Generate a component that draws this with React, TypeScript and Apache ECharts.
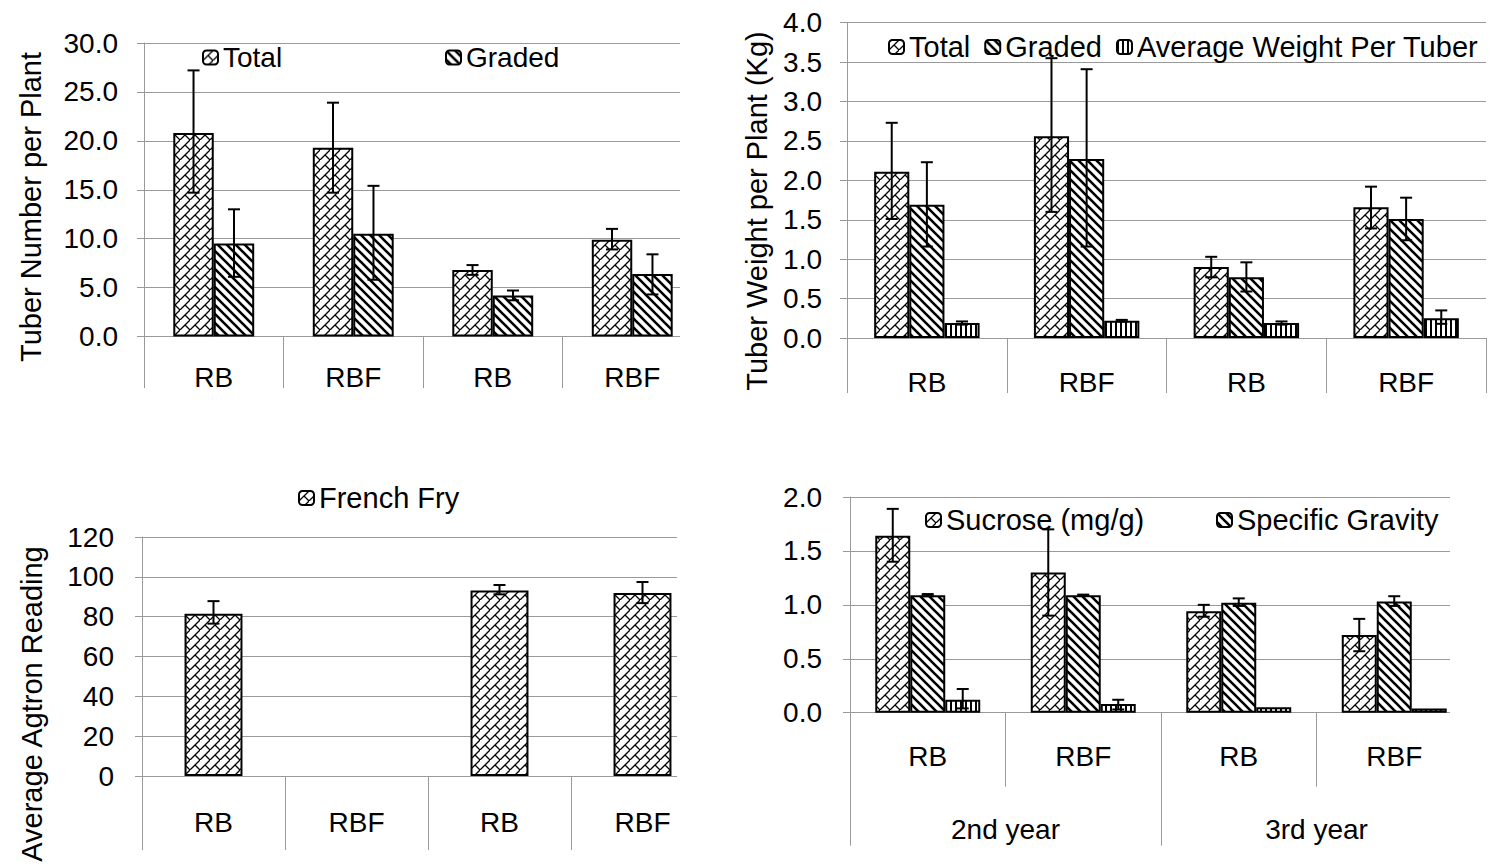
import React, { useEffect, useRef } from 'react';
import * as echarts from 'echarts';

// ---------- data ----------
const categories = ['RB', 'RBF', 'RB', 'RBF'];
const years = ['2nd year', '3rd year'];

// Panel 1: tuber number per plant
const numTotal = [20.8, 19.3, 6.8, 9.9];
const numTotalLow = [14.7, 14.7, 6.3, 8.9];
const numTotalHigh = [27.2, 23.9, 7.3, 11.0];
const numGraded = [9.5, 10.5, 4.2, 6.4];
const numGradedLow = [6.1, 5.8, 3.7, 4.3];
const numGradedHigh = [13.0, 15.4, 4.7, 8.4];

// Panel 2: tuber weight per plant (kg)
const wtTotal = [2.11, 2.56, 0.9, 1.66];
const wtTotalLow = [1.51, 1.6, 0.77, 1.39];
const wtTotalHigh = [2.73, 3.55, 1.03, 1.92];
const wtGraded = [1.69, 2.27, 0.77, 1.51];
const wtGradedLow = [1.16, 1.16, 0.59, 1.24];
const wtGradedHigh = [2.23, 3.41, 0.96, 1.78];
const wtAvg = [0.19, 0.22, 0.19, 0.25];
const wtAvgLow = [0.17, 0.21, 0.17, 0.18];
const wtAvgHigh = [0.21, 0.23, 0.21, 0.35];

// Panel 3: average Agtron reading
const fry = [81.5, null, 93.2, 91.9];
const fryLow = [76.5, null, 91.2, 86.8];
const fryHigh = [87.8, null, 95.9, 97.4];

// Panel 4: sucrose / specific gravity
const sucrose = [1.64, 1.3, 0.94, 0.72];
const sucroseLow = [1.4, 0.9, 0.89, 0.57];
const sucroseHigh = [1.89, 1.7, 1.0, 0.87];
const gravity = [1.09, 1.09, 1.02, 1.03];
const gravityLow = [1.08, 1.085, 0.99, 0.99];
const gravityHigh = [1.1, 1.095, 1.06, 1.08];
const third = [0.12, 0.08, 0.05, 0.04];
const thirdLow = [0.04, 0.03, null, null];
const thirdHigh = [0.22, 0.12, null, null];

// ---------- styles ----------
const GRID = '#9a9a9a';
const TEXT = '#000';
const FONT = '"Liberation Sans", Arial, sans-serif';

function makeCanvas(w: number, h: number, draw: (ctx: CanvasRenderingContext2D) => void) {
  const c = document.createElement('canvas');
  c.width = w;
  c.height = h;
  const ctx = c.getContext('2d')!;
  ctx.fillStyle = '#fff';
  ctx.fillRect(0, 0, w, h);
  draw(ctx);
  return c;
}

function patterns() {
  const brick = makeCanvas(10, 10, (ctx) => {
    ctx.strokeStyle = '#000';
    ctx.lineWidth = 1.3;
    ctx.beginPath();
    ctx.moveTo(-2, 12);
    ctx.lineTo(12, -2);
    ctx.moveTo(5, 5);
    ctx.lineTo(12, 12);
    ctx.stroke();
  });
  const diag = makeCanvas(9, 9, (ctx) => {
    ctx.strokeStyle = '#000';
    ctx.lineWidth = 2.6;
    ctx.beginPath();
    ctx.moveTo(-1, -1);
    ctx.lineTo(10, 10);
    ctx.moveTo(-10, -1);
    ctx.lineTo(1, 10);
    ctx.moveTo(8, -1);
    ctx.lineTo(19, 10);
    ctx.stroke();
  });
  const vert = makeCanvas(5, 5, (ctx) => {
    ctx.fillStyle = '#000';
    ctx.fillRect(0, 0, 2, 5);
  });
  const pat = (c: HTMLCanvasElement) => ({
    image: c,
    repeat: 'repeat',
    imageWidth: c.width,
    imageHeight: c.height,
  });
  return { brick: pat(brick), diag: pat(diag), vert: pat(vert) };
}

function barSeries(name: string, axis: number, data: (number | null)[], width: string, color: any) {
  return {
    type: 'bar',
    name,
    xAxisIndex: axis,
    yAxisIndex: axis,
    data: data.map((v) => (v == null ? '-' : v)),
    barWidth: width,
    barGap: '0%',
    itemStyle: { color, borderColor: '#000', borderWidth: 2 },
    z: 2,
  };
}

function errSeries(
  name: string,
  axis: number,
  low: (number | null)[],
  high: (number | null)[],
  index: number,
  count: number,
  frac: number
) {
  const data: number[][] = [];
  low.forEach((l, i) => {
    if (l != null && high[i] != null) data.push([i, l, high[i] as number]);
  });
  const line = { stroke: '#000', lineWidth: 2 };
  return {
    type: 'custom',
    name,
    xAxisIndex: axis,
    yAxisIndex: axis,
    silent: true,
    z: 5,
    data,
    encode: { x: 0, y: [1, 2] },
    renderItem: (params: any, api: any) => {
      const i = api.value(0);
      const lo = api.coord([i, api.value(1)]);
      const hi = api.coord([i, api.value(2)]);
      const band = api.size([1, 0])[0];
      const x = lo[0] + (index - (count - 1) / 2) * band * frac;
      const cap = 6;
      return {
        type: 'group',
        children: [
          { type: 'line', shape: { x1: x, y1: lo[1], x2: x, y2: hi[1] }, style: line },
          { type: 'line', shape: { x1: x - cap, y1: hi[1], x2: x + cap, y2: hi[1] }, style: line },
          { type: 'line', shape: { x1: x - cap, y1: lo[1], x2: x + cap, y2: lo[1] }, style: line },
        ],
      };
    },
  };
}

function catAxis(gridIndex: number, tickLen: number, margin: number) {
  return {
    type: 'category',
    gridIndex,
    data: categories,
    position: 'bottom',
    axisLine: { show: true, lineStyle: { color: GRID, width: 1 } },
    axisTick: { show: true, length: tickLen, lineStyle: { color: GRID, width: 1 } },
    axisLabel: { interval: 0, margin, fontSize: 28, color: TEXT, fontFamily: FONT },
    splitLine: { show: false },
  };
}

function valAxis(gridIndex: number, max: number, interval: number, margin: number, digits: number) {
  return {
    type: 'value',
    gridIndex,
    min: 0,
    max,
    interval,
    axisLine: { show: true, lineStyle: { color: GRID, width: 1 } },
    axisTick: { show: true, length: 7, lineStyle: { color: GRID, width: 1 } },
    splitLine: { show: true, lineStyle: { color: GRID, width: 1 } },
    axisLabel: {
      margin,
      fontSize: 28,
      color: TEXT,
      fontFamily: FONT,
      formatter: (v: number) => v.toFixed(digits),
    },
  };
}

function legend(names: string[], left: number, centerY: number, fontSize: number, gap = 14) {
  return {
    data: names,
    left,
    top: centerY - fontSize / 2,
    padding: 0,
    itemGap: gap,
    itemWidth: 15,
    itemHeight: 14,
    selectedMode: false,
    textStyle: { fontSize, color: TEXT, fontFamily: FONT },
  };
}

function axisName(text: string, x: number, y: number) {
  return {
    type: 'text',
    x,
    y,
    rotation: Math.PI / 2,
    z: 50,
    silent: true,
    style: {
      text,
      fontSize: 29,
      fontFamily: FONT,
      fill: TEXT,
      align: 'center',
      verticalAlign: 'middle',
      textAlign: 'center',
      textVerticalAlign: 'middle',
    },
  };
}

function cover(x: number, y: number, w: number, h: number) {
  return { type: 'rect', z: 100, silent: true, shape: { x, y, width: w, height: h }, style: { fill: '#fff' } };
}

export default function App() {
  const ref = useRef<HTMLDivElement>(null);

  useEffect(() => {
    if (!ref.current) return;
    const chart = echarts.init(ref.current, undefined, { renderer: 'svg' });
    const p = patterns();

    const w1 = 0.29;
    const w2 = 0.22;
    const w3 = 0.405;
    const w4 = 0.225;
    const pct = (f: number) => `${(f * 100).toFixed(1)}%`;

    chart.setOption({
      animation: false,
      backgroundColor: '#fff',
      grid: [
        { left: 144, top: 43, width: 558, height: 293.5 },
        { left: 847, top: 22.7, width: 639, height: 315.3 },
        { left: 142, top: 537, width: 572, height: 239 },
        { left: 850, top: 497, width: 622, height: 215.7 },
      ],
      xAxis: [
        catAxis(0, 51.5, 27),
        catAxis(1, 55, 30),
        catAxis(2, 74, 32),
        catAxis(3, 74, 30),
        {
          type: 'category',
          gridIndex: 3,
          data: years,
          position: 'bottom',
          axisLine: { show: false },
          axisTick: { show: true, length: 133, lineStyle: { color: GRID, width: 1 } },
          axisLabel: { interval: 0, margin: 103, fontSize: 28, color: TEXT, fontFamily: FONT },
          splitLine: { show: false },
        },
      ],
      yAxis: [
        valAxis(0, 30, 5, 26, 1),
        valAxis(1, 4, 0.5, 25, 1),
        valAxis(2, 120, 20, 28, 0),
        valAxis(3, 2, 0.5, 28, 1),
      ],
      legend: [
        legend(['Total'], 202, 57.5, 28),
        legend(['Graded'], 445, 57.5, 28),
        legend(['Total', 'Graded', 'Average Weight Per Tuber'], 888, 47, 29, 14),
        legend(['French Fry'], 298, 498, 29),
        legend(['Sucrose (mg/g)'], 925, 520, 29),
        legend(['Specific Gravity'], 1216, 520, 29),
      ],
      series: [
        // panel 1
        barSeries('Total', 0, numTotal, pct(w1), p.brick),
        barSeries('Graded', 0, numGraded, pct(w1), p.diag),
        errSeries('err-num-total', 0, numTotalLow, numTotalHigh, 0, 2, w1),
        errSeries('err-num-graded', 0, numGradedLow, numGradedHigh, 1, 2, w1),
        // panel 2
        barSeries('Total', 1, wtTotal, pct(w2), p.brick),
        barSeries('Graded', 1, wtGraded, pct(w2), p.diag),
        barSeries('Average Weight Per Tuber', 1, wtAvg, pct(w2), p.vert),
        errSeries('err-wt-total', 1, wtTotalLow, wtTotalHigh, 0, 3, w2),
        errSeries('err-wt-graded', 1, wtGradedLow, wtGradedHigh, 1, 3, w2),
        errSeries('err-wt-avg', 1, wtAvgLow, wtAvgHigh, 2, 3, w2),
        // panel 3
        barSeries('French Fry', 2, fry, pct(w3), p.brick),
        errSeries('err-fry', 2, fryLow, fryHigh, 0, 1, w3),
        // panel 4
        barSeries('Sucrose (mg/g)', 3, sucrose, pct(w4), p.brick),
        barSeries('Specific Gravity', 3, gravity, pct(w4), p.diag),
        barSeries('Third', 3, third, pct(w4), p.vert),
        errSeries('err-sucrose', 3, sucroseLow, sucroseHigh, 0, 3, w4),
        errSeries('err-gravity', 3, gravityLow, gravityHigh, 1, 3, w4),
        errSeries('err-third', 3, thirdLow, thirdHigh, 2, 3, w4),
      ],
      graphic: [
        cover(680, 0, 58, 420),
        cover(677, 500, 62, 368),
        cover(1450, 470, 43, 398),
        axisName('Tuber Number per Plant', 31, 207),
        axisName('Tuber Weight per Plant (Kg)', 757, 211),
        axisName('Average Agtron Reading', 32, 704),
      ],
    });

    return () => {
      chart.dispose();
    };
  }, []);

  return (
    <div
      ref={ref}
      style={{ position: 'absolute', left: 0, top: 0, width: 1493, height: 868, background: '#fff' }}
    />
  );
}
